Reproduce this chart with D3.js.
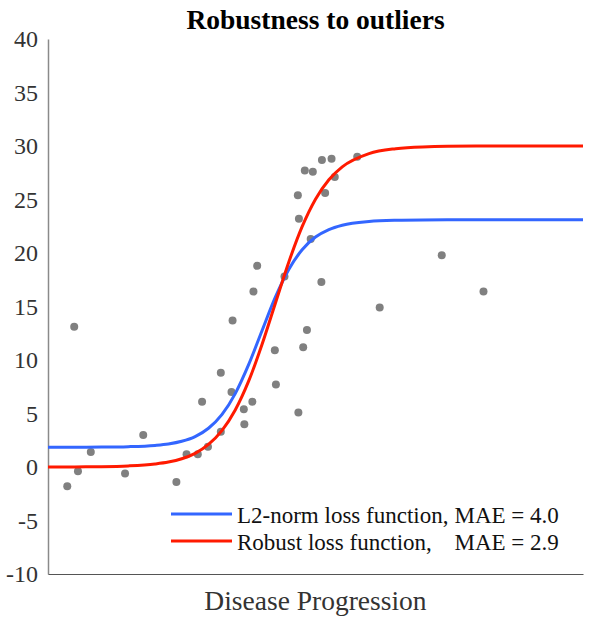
<!DOCTYPE html>
<html><head><meta charset="utf-8">
<script src="https://cdn.jsdelivr.net/npm/d3@7"></script>
<style>
html,body{margin:0;padding:0;background:#fff;}
svg text{font-family:"Liberation Serif","Times New Roman",Times,serif;}
</style></head>
<body>
<div id="chart"></div>
<script>
// ---- data ----
const title = "Robustness to outliers";
const xLabel = "Disease Progression";
const yTicks = [-10, -5, 0, 5, 10, 15, 20, 25, 30, 35, 40];

const pointX = [3.6, 4.9, 5.6, 8.0, 14.4, 17.8, 24.0, 25.9, 28.0, 29.9, 28.8, 32.3, 32.3, 34.5, 34.3, 36.6, 36.7, 38.2, 42.4, 42.6,
                38.4, 39.1, 44.2, 48.4, 49.1, 46.9, 46.7, 48.0, 49.5, 51.2, 53.0, 53.6, 51.8, 51.1, 57.8, 62.0, 73.6, 81.4, 47.7, 46.8];
const pointY = [-1.8, 13.1, -0.4, 1.4, -0.6, 3.0, -1.4, 1.2, 1.2, 1.9, 6.1, 8.8, 3.3, 13.7, 7.0, 5.4, 4.0, 6.1, 10.9, 7.7,
                16.4, 18.8, 17.8, 12.8, 21.3, 23.2, 25.4, 27.7, 27.6, 28.7, 28.8, 27.1, 25.6, 17.3, 29.0, 14.9, 19.8, 16.4, 11.2, 5.1];

const curveX  = [0, 5, 10, 15, 20, 22.5, 25, 27.5, 30, 32.5, 35, 37.5, 40, 42.5, 45, 47.5, 50, 52.5, 55, 60, 65, 70, 80, 90, 100];
const l2Y     = [1.85, 1.85, 1.86, 1.90, 2.02, 2.15, 2.40, 2.84, 3.62, 4.89, 6.86, 9.56, 12.74, 15.87, 18.46, 20.30, 21.49, 22.19, 22.60, 22.95, 23.06, 23.09, 23.10, 23.10, 23.10];
const robustY = [0.00, 0.01, 0.03, 0.10, 0.28, 0.46, 0.77, 1.28, 2.11, 3.40, 5.33, 8.02, 11.45, 15.31, 19.14, 22.46, 25.03, 26.85, 28.05, 29.29, 29.75, 29.91, 29.99, 30.00, 30.00];

const seriesNames = ["L2-norm loss function,", "Robust loss function,"];
const seriesMAE = ["MAE = 4.0", "MAE = 2.9"];
const seriesColors = ["#3366ff", "#ff1a00"];

// ---- layout ----
const W = 600, H = 619;
const m = {left: 48, right: 17, top: 39, bottom: 45};

const svg = d3.select("#chart").append("svg").attr("width", W).attr("height", H);

const x = d3.scaleLinear().domain([0, 100]).range([m.left, W - m.right]);
const y = d3.scaleLinear().domain([-10, 40]).range([H - m.bottom, m.top]);

// axes
const yAxis = d3.axisLeft(y).tickValues(yTicks).tickSize(0).tickPadding(10).tickFormat(d => String(d));
const gy = svg.append("g").attr("transform", `translate(${m.left},0)`).call(yAxis);
gy.select(".domain").attr("stroke", "#8a8a8a").attr("stroke-width", 1.5);
gy.selectAll("text").attr("font-size", 24).attr("fill", "#333");

const xAxis = d3.axisBottom(x).tickValues([]).tickSizeOuter(0);
const gx = svg.append("g").attr("transform", `translate(0,${H - m.bottom})`).call(xAxis);
gx.select(".domain").attr("stroke", "#555").attr("stroke-width", 1.2);

// title & label
svg.append("text").attr("x", (m.left + W - m.right) / 2).attr("y", 29)
  .attr("text-anchor", "middle").attr("font-weight", "bold").attr("font-size", 27.5).attr("fill", "#000")
  .text(title);
svg.append("text").attr("x", (m.left + W - m.right) / 2).attr("y", 610)
  .attr("text-anchor", "middle").attr("font-size", 27.5).attr("fill", "#333")
  .text(xLabel);

// points
const pts = pointX.map((d, i) => ({x: d, y: pointY[i]}));
svg.append("g").selectAll("circle").data(pts).join("circle")
  .attr("cx", d => x(d.x)).attr("cy", d => y(d.y)).attr("r", 4).attr("fill", "#808080");

// curves
const line = d3.line().x(d => x(d[0])).y(d => y(d[1])).curve(d3.curveMonotoneX);
[l2Y, robustY].forEach((ys, i) => {
  svg.append("path").datum(curveX.map((cx, j) => [cx, ys[j]]))
    .attr("d", line).attr("fill", "none").attr("stroke", seriesColors[i]).attr("stroke-width", 3);
});

// legend
const lg = svg.append("g");
const legY = [514, 541];
let maeX = null;
seriesNames.forEach((name, i) => {
  lg.append("line").attr("x1", 171).attr("x2", 232).attr("y1", legY[i]).attr("y2", legY[i])
    .attr("stroke", seriesColors[i]).attr("stroke-width", 3);
  const t = lg.append("text").attr("x", 237).attr("y", legY[i] + 9).attr("font-size", 23).attr("fill", "#111").text(name);
  if (maeX === null) maeX = 237 + t.node().getComputedTextLength() + 6;
  lg.append("text").attr("x", maeX).attr("y", legY[i] + 9).attr("font-size", 23).attr("fill", "#111").text(seriesMAE[i]);
});
</script>
</body></html>
